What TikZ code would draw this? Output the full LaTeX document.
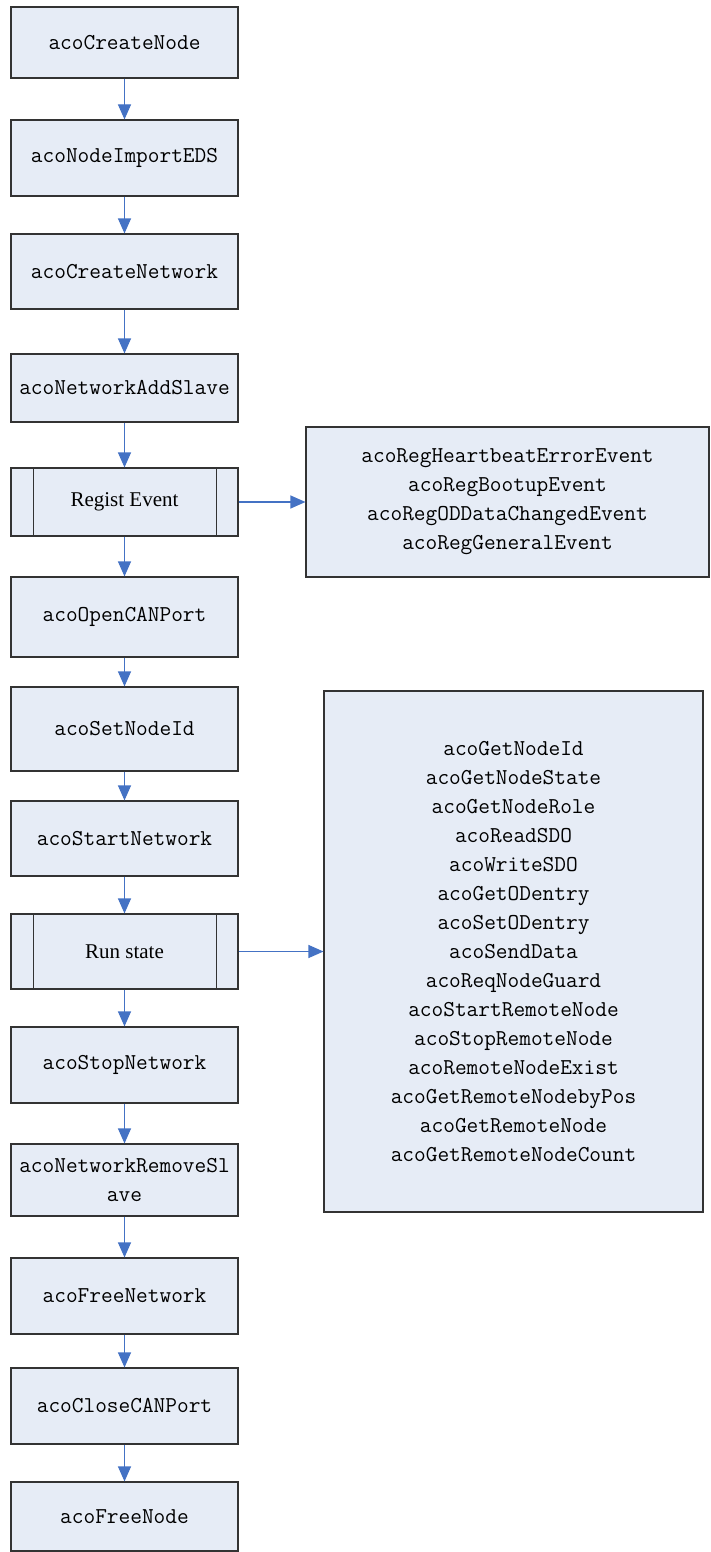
\documentclass[tikz,border=0pt]{standalone}
\usepackage{fontspec}
\setmainfont{Liberation Serif}
\usepackage{tikz}
\usetikzlibrary{arrows.meta, positioning, calc}
\definecolor{boxfill}{HTML}{E6ECF6}
\definecolor{boxline}{HTML}{333333}
\definecolor{flowblue}{HTML}{4472C4}
\tikzstyle{func} = [rectangle, draw=boxline, line width=1.1pt, fill=boxfill, minimum width=227pt, inner sep=0pt, align=center, font=\ttfamily\fontsize{22.7}{29}\selectfont]
\tikzstyle{subproc} = [func, font=\fontsize{21}{25}\selectfont]
\tikzstyle{calls} = [func, minimum width=0pt]
\tikzstyle{arrow} = [draw=flowblue, line width=1.1pt, -{Triangle[length=15pt,width=13pt]}]

\begin{document}
\begin{tikzpicture}[x=1pt, y=-1pt]
	\useasboundingbox (0,0) rectangle (710,1552);
	% main sequence
	\node (create) [func, minimum height=71pt] at (124.5,42.5) {acoCreateNode};
	\node (import) [func, minimum height=76pt] at (124.5,158) {acoNodeImportEDS};
	\node (network) [func, minimum height=75pt] at (124.5,271.5) {acoCreateNetwork};
	\node (addslave) [func, minimum height=68pt] at (124.5,388) {acoNetworkAddSlave};
	\node (regist) [subproc, minimum height=68pt] at (124.5,502) {Regist Event};
	\node (openport) [func, minimum height=80pt] at (124.5,617) {acoOpenCANPort};
	\node (setid) [func, minimum height=84pt] at (124.5,729) {acoSetNodeId};
	\node (start) [func, minimum height=75pt] at (124.5,838.5) {acoStartNetwork};
	\node (run) [subproc, minimum height=75pt] at (124.5,951.5) {Run state};
	\node (stop) [func, minimum height=76pt] at (124.5,1065) {acoStopNetwork};
	\node (remove) [func, minimum height=72pt] at (124.5,1180) {acoNetworkRemoveSl\\ave};
	\node (freenet) [func, minimum height=76pt] at (124.5,1296) {acoFreeNetwork};
	\node (closeport) [func, minimum height=76pt] at (124.5,1406) {acoCloseCANPort};
	\node (freenode) [func, minimum height=69pt] at (124.5,1516.5) {acoFreeNode};

	% side bars of the sub-process boxes
	\foreach \s in {regist, run} {
		\draw[boxline, line width=1.1pt] ([xshift=23pt]\s.north west) -- ([xshift=23pt]\s.south west);
		\draw[boxline, line width=1.1pt] ([xshift=-22pt]\s.north east) -- ([xshift=-22pt]\s.south east);
	}

	% call lists
	\node (events) [calls, minimum width=403pt, minimum height=150pt] at (507.5,502) {acoRegHeartbeatErrorEvent\\acoRegBootupEvent\\acoRegODDataChangedEvent\\acoRegGeneralEvent};
	\node (runcalls) [calls, minimum width=379pt, minimum height=521pt] at (513.5,951.5) {acoGetNodeId\\acoGetNodeState\\acoGetNodeRole\\acoReadSDO\\acoWriteSDO\\acoGetODentry\\acoSetODentry\\acoSendData\\acoReqNodeGuard\\acoStartRemoteNode\\acoStopRemoteNode\\acoRemoteNodeExist\\acoGetRemoteNodebyPos\\acoGetRemoteNode\\acoGetRemoteNodeCount};

	% arrows
	\foreach \a/\b in {create/import, import/network, network/addslave, addslave/regist, regist/openport, openport/setid, setid/start, start/run, run/stop, stop/remove, remove/freenet, freenet/closeport, closeport/freenode}
		\draw[arrow] (\a) -- (\b);
	\draw[arrow] (regist) -- (events);
	\draw[arrow] (run) -- (runcalls);
\end{tikzpicture}
\end{document}
